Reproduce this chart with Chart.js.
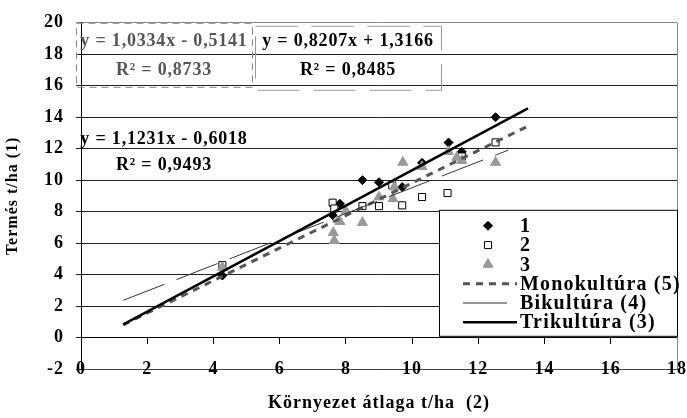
<!DOCTYPE html>
<html>
<head>
<meta charset="utf-8">
<script src="https://cdn.jsdelivr.net/npm/chart.js@4.4.0/dist/chart.umd.min.js"></script>
<style>
  html, body { margin: 0; padding: 0; background: #fff; }
</style>
</head>
<body>
<canvas id="termesChart" width="687" height="418"></canvas>
<script>
// környezet átlaga (x) és termés (y), vetésforgónként
var pointNames = ['1', '2', '3'];
var env1   = [4.27, 7.6, 7.82, 8.5, 9.0, 9.7, 10.3, 11.1, 11.5, 12.52];
var yield1 = [3.94, 7.78, 8.5, 10.0, 9.87, 9.56, 11.1, 12.39, 11.8, 14.0];
var env2   = [4.27, 7.6, 7.65, 8.5, 9.0, 9.4, 9.7, 10.3, 11.07, 11.5, 12.52];
var yield2 = [4.6, 8.57, 8.2, 8.35, 8.35, 9.67, 8.4, 8.93, 9.18, 11.5, 12.4];
var env3   = [4.27, 7.62, 7.65, 7.82, 8.0, 8.5, 9.0, 9.42, 9.46, 9.72, 10.3, 11.1, 11.35, 11.5, 12.52];
var yield3 = [4.45, 6.67, 6.16, 7.36, 8.03, 7.31, 8.93, 8.82, 9.56, 11.13, 10.86, 11.82, 11.45, 11.24, 11.13];

// trendvonalak: y = a*x + b
var trendNames     = ['Monokultúra (5)', 'Bikultúra (4)', 'Trikultúra (3)'];
var trendSlope     = [1.0334, 0.8207, 1.1231];
var trendIntercept = [-0.5141, 1.3166, -0.6018];
var trendR2        = [0.8733, 0.8485, 0.9493];
var trendFrom      = [1.27, 1.28, 1.28];
var trendTo        = [13.5, 12.9, 13.5];

var xTicks = [0, 2, 4, 6, 8, 10, 12, 14, 16, 18];
var yTicks = [-2, 0, 2, 4, 6, 8, 10, 12, 14, 16, 18, 20];

var serif = 'Liberation Serif';

function pairs(xs, ys) {
  return xs.map(function (x, i) { return { x: x, y: ys[i] }; });
}
function trendPoints(i) {
  return [trendFrom[i], trendTo[i]].map(function (x) {
    return { x: x, y: trendSlope[i] * x + trendIntercept[i] };
  });
}
function hu(n) { return n.toFixed(4).replace('.', ','); }
function equation(i) {
  var b = trendIntercept[i];
  return 'y = ' + hu(trendSlope[i]) + 'x ' + (b < 0 ? '- ' : '+ ') + hu(Math.abs(b));
}

// egyenlet-dobozok
var eqBoxes = [
  { dx: -5, dy: 0, w: 176, h: 64, l1: 19, l2: 48, color: '#555', border: '#888', dash: [7, 5] },
  { dx: 174, dy: 3, w: 186, h: 64, l1: 16, l2: 45, color: '#000', border: '#999', dash: [42, 14] },
  { dx: -5, dy: 104, w: 176, h: 0, l1: 13, l2: 39, color: '#000', border: null }
];

// kicsit szellősebb betűköz az egész rajzon
var spacingPlugin = {
  id: 'spacing',
  beforeDraw: function (chart) { chart.ctx.letterSpacing = '1px'; }
};

var equationsPlugin = {
  id: 'equations',
  afterDatasetsDraw: function (chart) {
    var ctx = chart.ctx, ca = chart.chartArea;
    ctx.save();
    ctx.letterSpacing = '0.8px';
    eqBoxes.forEach(function (b, i) {
      var x = ca.left + b.dx, y = ca.top + b.dy;
      if (b.border) {
        ctx.setLineDash(b.dash);
        ctx.strokeStyle = b.border;
        ctx.lineWidth = 1;
        ctx.strokeRect(x + 0.5, y + 0.5, b.w, b.h);
        ctx.setLineDash([]);
      }
      ctx.fillStyle = b.color;
      ctx.font = 'bold 18px "' + serif + '"';
      ctx.textAlign = 'center';
      ctx.textBaseline = 'middle';
      ctx.fillText(equation(i), x + b.w / 2, y + b.l1);
      ctx.fillText('R² = ' + hu(trendR2[i]), x + b.w / 2, y + b.l2);
    });
    ctx.restore();
  }
};

var legendPlugin = {
  id: 'boxLegend',
  afterDatasetsDraw: function (chart) {
    var ctx = chart.ctx, ca = chart.chartArea;
    var w = 238, h = 126;
    var x = ca.right - w, y = ca.top + 187;
    ctx.save();
    ctx.fillStyle = '#fff';
    ctx.fillRect(x, y, w, h);
    ctx.strokeStyle = '#000';
    ctx.lineWidth = 1;
    ctx.strokeRect(x + 0.5, y + 0.5, w, h);
    chart.data.datasets.forEach(function (ds, i) {
      var cy = y + 16 + i * 19.3;
      if (ds.showLine) {
        ctx.strokeStyle = ds.borderColor;
        ctx.lineWidth = ds.borderWidth;
        ctx.setLineDash(ds.borderDash || []);
        ctx.beginPath();
        ctx.moveTo(x + 24, cy);
        ctx.lineTo(x + 78, cy);
        ctx.stroke();
        ctx.setLineDash([]);
      } else {
        ctx.fillStyle = ds.pointBackgroundColor;
        ctx.strokeStyle = ds.pointBorderColor;
        ctx.lineWidth = ds.pointBorderWidth;
        Chart.helpers.drawPoint(ctx, {
          pointStyle: ds.pointStyle, radius: ds.pointRadius, rotation: 0,
          borderWidth: ds.pointBorderWidth
        }, x + 49, cy);
      }
      ctx.fillStyle = '#000';
      ctx.letterSpacing = '1.2px';
      ctx.font = 'bold 20px "' + serif + '"';
      ctx.textAlign = 'left';
      ctx.textBaseline = 'middle';
      ctx.fillText(ds.label, x + 81, cy + 1);
    });
    ctx.restore();
  }
};

// jobb oldali keret
var framePlugin = {
  id: 'frame',
  beforeDatasetsDraw: function (chart) {
    var ctx = chart.ctx, ca = chart.chartArea;
    ctx.save();
    ctx.strokeStyle = '#888';
    ctx.lineWidth = 1;
    ctx.beginPath();
    ctx.moveTo(Math.round(ca.right) + 0.5, ca.top);
    ctx.lineTo(Math.round(ca.right) + 0.5, ca.bottom);
    ctx.stroke();
    ctx.restore();
  }
};

var trendStyles = [
  { color: '#555', width: 3, dash: [7, 6] },
  { color: '#333', width: 1, dash: [44, 13] },
  { color: '#000', width: 2.5, dash: [] }
];

var datasets = [
  { label: pointNames[0], data: pairs(env1, yield1), pointStyle: 'rectRot', pointRadius: 4.5,
    pointBackgroundColor: '#000', pointBorderColor: '#000', pointBorderWidth: 1, order: 5 },
  { label: pointNames[1], data: pairs(env2, yield2), pointStyle: 'rect', pointRadius: 5,
    pointBackgroundColor: '#fff', pointBorderColor: '#000', pointBorderWidth: 1, order: 4 },
  { label: pointNames[2], data: pairs(env3, yield3), pointStyle: 'triangle', pointRadius: 5.8,
    pointBackgroundColor: '#999', pointBorderColor: '#999', pointBorderWidth: 1, order: 3 }
];
trendNames.forEach(function (name, i) {
  datasets.push({
    label: name, data: trendPoints(i), showLine: true, pointRadius: 0,
    borderColor: trendStyles[i].color, borderWidth: trendStyles[i].width,
    borderDash: trendStyles[i].dash, fill: false, order: 2 - i
  });
});

var tickFont = { family: serif, size: 18, weight: 'bold' };

new Chart(document.getElementById('termesChart'), {
  type: 'scatter',
  data: { datasets: datasets },
  options: {
    responsive: false,
    animation: false,
    devicePixelRatio: 1,
    layout: { padding: { top: 19, right: 10, left: 0, bottom: 0 } },
    plugins: { legend: { display: false }, tooltip: { enabled: false } },
    scales: {
      x: {
        type: 'linear', position: 'bottom', min: 0, max: 18,
        afterBuildTicks: function (s) { s.ticks = xTicks.map(function (v) { return { value: v }; }); },
        afterFit: function (s) { s.height = 49; },
        grid: { display: false, drawTicks: false },
        border: { display: true, color: '#444', width: 1 },
        // a feliratok a -2-es vonalon ülnek
        ticks: { font: tickFont, color: '#000', mirror: true, padding: -11, autoSkip: false, maxRotation: 0 },
        title: { display: true, text: 'Környezet átlaga t/ha  (2)', color: '#000',
                 font: { family: serif, size: 18, weight: 'bold' }, padding: { top: 0, bottom: 4 } }
      },
      x0: {
        type: 'linear', position: { y: 0 }, min: 0, max: 18,
        afterBuildTicks: function (s) { s.ticks = xTicks.map(function (v) { return { value: v }; }); },
        grid: { drawOnChartArea: false, drawTicks: true, tickLength: 6, color: '#000' },
        border: { display: true, color: '#000', width: 1 },
        ticks: { display: false }
      },
      y: {
        type: 'linear', position: 'left', min: -2, max: 20,
        afterBuildTicks: function (s) { s.ticks = yTicks.map(function (v) { return { value: v }; }); },
        afterFit: function (s) { s.width = 81; },
        grid: {
          color: function (c) { return c.tick && c.tick.value === 20 ? '#888' : '#222'; },
          drawTicks: true, tickLength: 5, lineWidth: 1
        },
        border: { display: true, color: '#000', width: 1 },
        ticks: { font: tickFont, color: '#000', padding: 12 },
        title: { display: true, text: 'Termés t/ha (1)', color: '#000',
                 font: { family: serif, size: 16, weight: 'bold' }, padding: { top: 3, bottom: 0 } }
      }
    }
  },
  plugins: [spacingPlugin, framePlugin, equationsPlugin, legendPlugin]
});
</script>
</body>
</html>
